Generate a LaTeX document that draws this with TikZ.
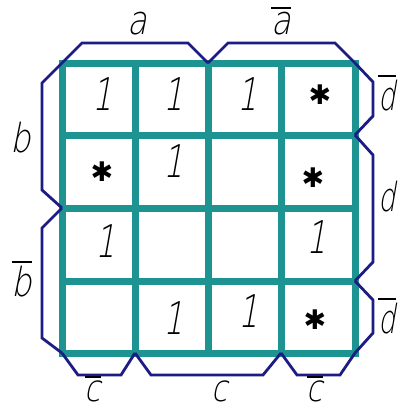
\documentclass[tikz,border=0pt]{standalone}
\usepackage{fontspec}
\setmainfont{Liberation Sans}
\newfontfamily\gost[FakeSlant=0.25]{DejaVu Sans ExtraLight}
\newfontfamily\djv{DejaVu Sans}
\definecolor{gridc}{RGB}{30,148,146}
\definecolor{brkc}{RGB}{28,28,132}
\newcommand\ovl[1]{\vbox{\hrule height 2.4pt\kern 3pt\hbox{#1}}}
\begin{document}
\begin{tikzpicture}[x=1pt,y=-1pt,
  gridline/.style={draw=gridc,line width=7pt},
  brk/.style={draw=brkc,line width=2.8pt,line join=miter},
  one/.style={inner sep=0pt,font=\gost\fontsize{45}{45}\selectfont,xscale=0.7},
  star/.style={inner sep=0pt,font=\djv\fontsize{27}{27}\selectfont},
  lbl/.style={inner sep=0pt,font=\gost\fontsize{40}{40}\selectfont,xscale=0.8},
  rlbl/.style={lbl,xscale=0.85},
  blbl/.style={inner sep=0pt,font=\gost\fontsize{37}{37}\selectfont,xscale=0.8}]
\useasboundingbox (0,0) rectangle (402,410);
\fill[white] (0,0) rectangle (402,410);
% grid
\draw[gridline] (62,63) rectangle (355,353);
\foreach \x in {135,208,281} \draw[gridline] (\x,63) -- (\x,353);
\foreach \y in {135,208,281} \draw[gridline] (62,\y) -- (355,\y);
% brackets
\draw[brk] (62,63) -- (82,43) -- (188,43) -- (208,63);
\draw[brk] (208,63) -- (228,43) -- (335,43) -- (355,63);
\draw[brk] (355,63) -- (373,82) -- (373,116) -- (355,135);
\draw[brk] (355,135) -- (373,155) -- (373,262) -- (355,281);
\draw[brk] (355,281) -- (373,300) -- (373,333) -- (355,353);
\draw[brk] (355,353) -- (340,375) -- (297,375) -- (281,353);
\draw[brk] (281,353) -- (263,375) -- (151,375) -- (135,353);
\draw[brk] (135,353) -- (121,375) -- (78,375) -- (62,353);
\draw[brk] (62,353) -- (42,338) -- (42,228) -- (62,208);
\draw[brk] (62,208) -- (42,190) -- (42,83) -- (62,63);
% labels
\node[lbl] (la) at (137,24) {a};
\node[lbl] (lna) at (281,21) {\ovl{a}};
\node[lbl] (lb) at (21,138) {b};
\node[lbl] (lnb) at (22,279) {\ovl{b}};
\node[rlbl] (lnd1) at (387,93) {\ovl{d}};
\node[rlbl] (ld) at (387,197) {d};
\node[rlbl] (lnd2) at (387,316) {\ovl{d}};
\node[blbl] (lnc1) at (93,389) {\ovl{c}};
\node[blbl] (lc) at (220,391) {c};
\node[blbl] (lnc2) at (315,389) {\ovl{c}};
% cells
\node[one] (c11) at (103,94) {1};
\node[one] (c12) at (174,94) {1};
\node[one] (c13) at (248,94) {1};
\node[star] (c14) at (320,95) {✱};
\node[star] (c21) at (102,172) {✱};
\node[one] (c22) at (174,161) {1};
\node[star] (c24) at (313,178) {✱};
\node[one] (c31) at (106,241) {1};
\node[one] (c34) at (317,237) {1};
\node[one] (c42) at (174,318) {1};
\node[one] (c43) at (249,311) {1};
\node[star] (c44) at (315,320) {✱};
\end{tikzpicture}
\end{document}
